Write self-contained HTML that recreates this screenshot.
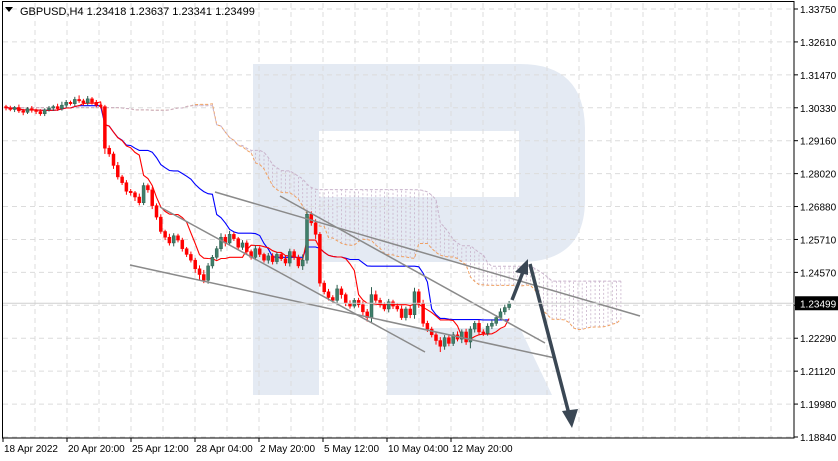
<!DOCTYPE html>
<html><head><meta charset="utf-8"><style>
html,body{margin:0;padding:0;background:#fff;}
svg{display:block;font-family:"Liberation Sans",sans-serif;}
</style></head><body>
<svg id="chart" width="838" height="461" viewBox="0 0 838 461" xmlns="http://www.w3.org/2000/svg">
<rect x="0" y="0" width="838" height="461" fill="#fff"/>
<g id="watermark" fill="#e4eaf3">
<path fill-rule="evenodd" d="M253 64 H520 Q585 64 585 130 V200 Q585 262 520 262 H319 V395 H253 Z M319 131 V197 H519 V131 Z"/>
<polygon points="387,328 520,328 552,395 387,395"/>
</g>
<g id="grid"></g>
<g id="cloud"></g>
<g id="lines"></g>
<g id="candles"></g>
<g id="trend" stroke="#8a8a8a" stroke-width="1.5" fill="none">
<line x1="215" y1="192" x2="640" y2="316"/>
<line x1="130" y1="265" x2="555" y2="358"/>
<line x1="160" y1="207" x2="425" y2="352"/>
<line x1="280" y1="196" x2="545" y2="343"/>
</g>
<g id="arrows" stroke="#3a4754" stroke-width="3.5" fill="#3a4754">
<line x1="512" y1="300" x2="523" y2="272"/>
<polygon points="528,259 515,272 528,275" stroke="none"/>
<line x1="530" y1="264" x2="569" y2="414"/>
<polygon points="572,428 562,411 578,409" stroke="none"/>
</g>
<g id="axes"></g>
<text x="20" y="15" font-size="11" fill="#000">GBPUSD,H4  1.23418 1.23637 1.23341 1.23499</text>
<polygon points="5,7 13,7 9,12" fill="#000"/>
</svg>
<script>
const closes=[1.3030,1.3025,1.3032,1.3020,1.3015,1.3028,1.3022,1.3018,1.3010,1.3024,1.3030,1.3035,1.3028,1.3040,
1.3050,1.3045,1.3060,1.3055,1.3048,1.3062,1.3050,1.3040,1.3035,
1.2890,1.2870,1.2830,1.2790,1.2770,1.2740,1.2735,
1.2720,1.2700,1.2760,1.2745,1.2690,1.2650,1.2600,
1.2580,1.2560,1.2585,1.2570,1.2540,1.2520,1.2500,1.2470,
1.2450,1.2430,1.2480,1.2510,1.2540,1.2580,
1.2560,1.2590,1.2575,1.2545,1.2560,1.2530,1.2510,1.2540,1.2520,1.2500,
1.2515,1.2495,1.2520,1.2505,1.2490,1.2530,1.2510,1.2480,1.2500,
1.2660,1.2630,1.2590,1.2420,1.2390,
1.2370,1.2360,1.2400,1.2380,1.2350,1.2340,1.2360,1.2345,1.2320,1.2300,
1.2380,1.2360,1.2345,1.2330,1.2355,1.2340,1.2330,1.2300,1.2330,1.2310,
1.2390,1.2350,1.2280,1.2260,1.2240,1.2220,
1.2200,1.2230,1.2210,1.2240,1.2225,1.2250,1.2215,1.2260,1.2280,1.2250,
1.2245,1.2270,1.2280,1.2300,1.2320,1.2335,1.23499];
const firstOpen=1.3035;
const wickUp=[6,8,5,10,7,5,9,6,8,5,7,6,10,12,8,6,9,14,7,10,6,8,5,6,10,8,12,7,9,8,6,12,10,7,9,8,10,6,12,9,7,8,6,10,8,12,16,10,8,9,14,10,12,8,6,10,9,7,12,8,6,10,9,8,7,12,10,8,9,20,14,10,12,8,9,10,8,14,9,7,10,8,9,12,10,26,14,9,8,10,7,9,12,8,10,14,10,12,9,8,10,12,9,8,10,12,9,11,10,8,12,9,10,14,9,12,10,8];
const wickDn=[8,6,9,7,10,6,8,9,7,8,6,10,8,7,9,6,8,7,10,9,8,7,6,20,10,12,9,8,12,10,14,9,8,10,12,9,8,10,9,12,8,10,9,8,14,18,10,12,9,8,10,12,9,8,10,9,12,8,10,9,8,12,10,9,8,10,12,9,8,14,12,10,16,12,9,10,8,12,14,10,9,8,10,12,14,16,9,10,8,12,10,9,8,10,12,14,16,12,10,9,14,20,12,10,9,8,14,10,22,12,10,9,8,10,9,8,10,9];
const yTicks=["1.33750","1.32610","1.31470","1.30330","1.29160","1.28020","1.26880","1.25710","1.24570","1.23430","1.22290","1.21120","1.19980","1.18840"];
const xLabels=["18 Apr 2022","20 Apr 20:00","25 Apr 12:00","28 Apr 04:00","2 May 20:00","5 May 12:00","10 May 04:00","12 May 20:00"];
const lastPrice="1.23499";

const NS="http://www.w3.org/2000/svg";
const PT=9,PB=437,PMAX=1.3375,PMIN=1.1884;
function y(p){return PT+(PMAX-p)/(PMAX-PMIN)*(PB-PT);}
function x(i){return 6+i*4.3;}
function mk(tag,attrs,parent){const e=document.createElementNS(NS,tag);for(const k in attrs)e.setAttribute(k,attrs[k]);parent.appendChild(e);return e;}
const grid=document.getElementById('grid'),axes=document.getElementById('axes');
for(let k=0;k<yTicks.length;k++){const yy=PT+k*(PB-PT)/(yTicks.length-1);
 const l=mk('line',{x1:3,x2:794,y1:yy,y2:yy,stroke:'#dcdcdc','stroke-dasharray':'5,4'},grid);
 
 
 const t=mk('line',{x1:794,x2:798,y1:yy,y2:yy,stroke:'#000'},axes);
 
 
 const tx=mk('text',{x:800,y:yy+4,'font-size':'10',fill:'#000'},axes);tx.textContent=yTicks[k];
 
 
}
for(let gx=35;gx<794;gx+=32){const l=mk('line',{x1:gx,x2:gx,y1:3,y2:438,stroke:'#dcdcdc','stroke-dasharray':'5,4'},grid);
 
 }
xLabels.forEach((s,k)=>{const tx=mk('text',{x:4+k*64,y:452,'font-size':'10',fill:'#000'},axes);tx.textContent=s;
 
 
 const t=mk('line',{x1:3+k*64,x2:3+k*64,y1:438,y2:442,stroke:'#000'},axes);
 
 });
const br=mk('rect',{x:2.5,y:1.5,width:791.5,height:436.5,fill:'none',stroke:'#000'},axes);


const n=closes.length,O=[],H=[],L=[];
for(let i=0;i<n;i++){O[i]=i?closes[i-1]:firstOpen;H[i]=Math.max(O[i],closes[i])+wickUp[i]*0.0001;L[i]=Math.min(O[i],closes[i])-wickDn[i]*0.0001;}
function mid(i,p){let h=-1e9,l=1e9;for(let j=Math.max(0,i-p+1);j<=i;j++){h=Math.max(h,H[j]);l=Math.min(l,L[j]);}return (h+l)/2;}
const ten=[],kij=[],sA=[],sB=[];
for(let i=0;i<n;i++){ten[i]=mid(i,9);kij[i]=mid(i,26);sA[i]=(ten[i]+kij[i])/2;sB[i]=mid(i,52);}
const cloud=document.getElementById('cloud');
let pa='',pb='';
for(let j=0;j<n+26;j++){const s=Math.max(0,j-26);const xa=x(j);const ya=y(sA[s]),yb=y(sB[s]);
 pa+=(j?'L':'M')+xa.toFixed(1)+' '+ya.toFixed(1);pb+=(j?'L':'M')+xa.toFixed(1)+' '+yb.toFixed(1);
 const v=mk('line',{x1:xa,x2:xa,y1:ya,y2:yb,stroke:'#c9b3cb','stroke-width':'0.8','stroke-dasharray':'2,2'},cloud);
 
 }
const a=mk('path',{d:pa,fill:'none',stroke:'#f0a060','stroke-width':'1','stroke-dasharray':'3,2'},cloud);


const b=mk('path',{d:pb,fill:'none',stroke:'#c9b3cb','stroke-width':'1','stroke-dasharray':'3,2'},cloud);


const lines=document.getElementById('lines');
function poly(arr){return arr.map((v,i)=>(i?'L':'M')+x(i).toFixed(1)+' '+y(v).toFixed(1)).join('');}
const kl=mk('path',{d:poly(kij),fill:'none',stroke:'#0000ff','stroke-width':'1.1'},lines);


const tl=mk('path',{d:poly(ten),fill:'none',stroke:'#ff0000','stroke-width':'1.1'},lines);


const cg=document.getElementById('candles');
for(let i=0;i<n;i++){const up=closes[i]>=O[i];const col=up?'#2e5e4e':'#ff0000';const xc=x(i);
 const w=mk('line',{x1:xc,x2:xc,y1:y(H[i]),y2:y(L[i]),stroke:col,'stroke-width':'1'},cg);
 
 
 const top=y(Math.max(O[i],closes[i])),bot=y(Math.min(O[i],closes[i]));
 const r=mk('rect',{x:xc-1.5,y:top,width:3,height:Math.max(1,bot-top),fill:up?'#3f7f6a':'#ff0000',stroke:col,'stroke-width':'0.5'},cg);
 
 }
const ly=y(closes[n-1]);
const pl=mk('line',{x1:3,x2:794,y1:ly,y2:ly,stroke:'#cfcfcf'},axes);


const bx=mk('rect',{x:795,y:ly-7,width:43,height:14,fill:'#000'},axes);


const bt=mk('text',{x:800,y:ly+4,'font-size':'10',fill:'#fff'},axes);bt.textContent=lastPrice;


</script>
</body></html>
